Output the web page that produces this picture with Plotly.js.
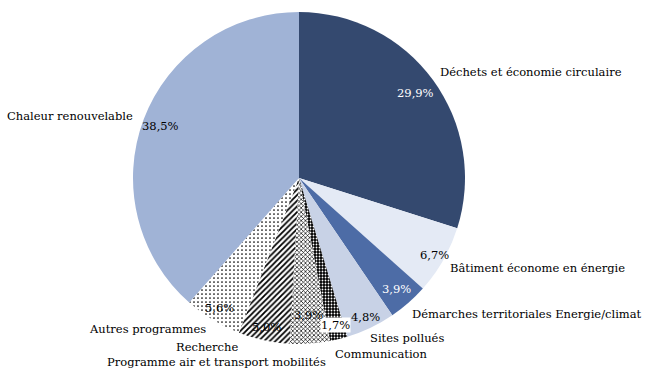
<!DOCTYPE html>
<html>
<head>
<meta charset="utf-8">
<script src="https://cdn.plot.ly/plotly-3.0.1.min.js"></script>
<style>html,body{margin:0;padding:0;background:#fff}#chart{width:651px;height:380px}</style>
</head>
<body>
<div id="chart"></div>
<script>
// ---- data ----
const categories = [
  "Déchets et économie circulaire",
  "Bâtiment économe en énergie",
  "Démarches territoriales Energie/climat",
  "Sites pollués",
  "Communication",
  "Programme air et transport mobilités",
  "Recherche",
  "Autres programmes",
  "Chaleur renouvelable"
];
const shares = [29.9, 6.7, 3.9, 4.8, 1.7, 3.9, 5.0, 5.6, 38.5];
const percentLabels = ["29,9%", "6,7%", "3,9%", "4,8%", "1,7%", "3,9%", "5,0%", "5,6%", "38,5%"];

// ---- styles / layout helpers ----
const W = 651, H = 380;
const CX = 299, CY = 178, R = 166;
const colors = ["#34496f", "#e4eaf5", "#4d6ca6", "#c8d2e6", "#000000", "#ffffff", "#ffffff", "#ffffff", "#a0b3d6"];
const patShape = ["", "", "", "", ".", "x", "/", ".", ""];
const patFg = ["#000", "#000", "#000", "#000", "#fff", "#000", "#000", "#000", "#000"];
const patBg = ["#34496f", "#e4eaf5", "#4d6ca6", "#c8d2e6", "#000000", "#ffffff", "#ffffff", "#ffffff", "#a0b3d6"];
const patSize = [4, 4, 4, 4, 3, 3, 4, 4, 4];
const patSolid = [0.3, 0.3, 0.3, 0.3, 0.3, 0.4, 0.45, 0.15, 0.3];

// label placement: offsets (px) from the slice's mid-angle edge point
const labelOff = [[5, -8, "left"], [5, 8, "left"], [2, 11, "left"], [-3, 10, "left"], [-6, 15, "left"],
                  [18, 18, "right"], [-24, 7, "right"], [-5, 9, "right"], [-9, -3, "right"]];
// percent labels: radial factor along the mid-angle
const pctR = [0.87, 0.94, 0.89, 0.93, 0.915, 0.83, 0.92, 0.92, 0.89];
const pctColor = ["#fff", "#000", "#fff", "#000", "#000", "#000", "#000", "#000", "#000"];

const FONT = "DejaVu Serif";
const FS = 11.5;
const total = shares.reduce((a, b) => a + b, 0);
let cum = 0;
const annotations = [];
shares.forEach((v, i) => {
  const mid = (cum + v / 2) / total * 2 * Math.PI;
  cum += v;
  const s = Math.sin(mid), c = Math.cos(mid);
  const ex = CX + R * s, ey = CY - R * c;
  const lo = labelOff[i];
  annotations.push({
    xref: "paper", yref: "paper", x: (ex + lo[0]) / W, y: 1 - (ey + lo[1]) / H,
    xanchor: lo[2], yanchor: "middle", showarrow: false, text: categories[i],
    font: {family: FONT, size: FS, color: "#000"}
  });
  const px = CX + R * pctR[i] * s, py = CY - R * pctR[i] * c;
  annotations.push({
    xref: "paper", yref: "paper", x: px / W, y: 1 - py / H,
    xanchor: "center", yanchor: "middle", showarrow: false, text: percentLabels[i],
    bgcolor: i === 4 ? "#ffffff" : "rgba(0,0,0,0)", borderpad: 0,
    font: {family: FONT, size: FS, color: pctColor[i]}
  });
});

const trace = {
  type: "pie",
  labels: categories,
  values: shares,
  sort: false,
  direction: "clockwise",
  rotation: 0,
  textinfo: "none",
  hoverinfo: "label+percent",
  showlegend: false,
  domain: {x: [(CX - R) / W, (CX + R) / W], y: [1 - (CY + R) / H, 1 - (CY - R) / H]},
  marker: {
    colors: colors,
    line: {width: 0},
    pattern: {shape: patShape, fgcolor: patFg, bgcolor: patBg, size: patSize, solidity: patSolid, fillmode: "replace"}
  }
};

Plotly.newPlot("chart", [trace], {
  width: W, height: H,
  margin: {l: 0, r: 0, t: 0, b: 0},
  paper_bgcolor: "#fff",
  font: {family: FONT},
  annotations: annotations,
  showlegend: false
}, {displayModeBar: false, staticPlot: true});
</script>
</body>
</html>
